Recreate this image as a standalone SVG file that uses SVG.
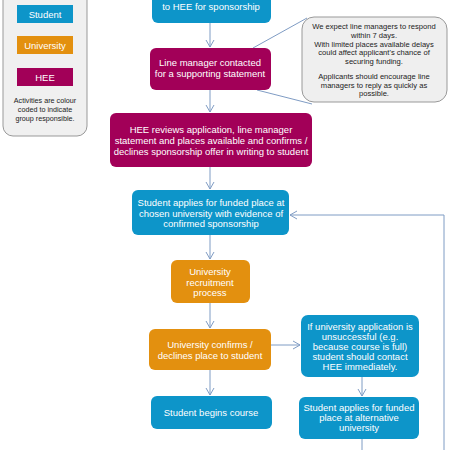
<svg xmlns="http://www.w3.org/2000/svg" width="450" height="450" viewBox="0 0 450 450">
<style>
text{font-family:"Liberation Sans",Arial,sans-serif;text-anchor:middle}
.n text{fill:#fff;font-size:9.5px}
.stu{fill:#0d95c9}
.uni{fill:#e3900f}
.hee{fill:#a20058}
.c{stroke:#7f9cc4;stroke-width:1;fill:none}
.lt{font-size:7.2px;fill:#222}
.nt{font-size:7.6px;fill:#222}
</style>
<defs>
<marker id="ah" markerWidth="10" markerHeight="10" refX="8" refY="5" orient="auto" markerUnits="userSpaceOnUse">
<path d="M1,1 L8,5 L1,9" fill="none" stroke="#7f9cc4" stroke-width="1"/>
</marker>
</defs>
<rect width="450" height="450" fill="#fff"/>

<g id="legend">
<rect x="3" y="-12" width="84" height="148" rx="10" fill="#f0f0f0" stroke="#999"/>
<rect x="17" y="5" width="56" height="18" class="stu"/>
<text x="45" y="17.5" style="fill:#fff;font-size:9.5px">Student</text>
<rect x="17" y="36" width="56" height="18" class="uni"/>
<text x="45" y="48.5" style="fill:#fff;font-size:9.5px">University</text>
<rect x="17" y="68" width="56" height="18" class="hee"/>
<text x="45" y="80.5" style="fill:#fff;font-size:9.5px">HEE</text>
<text class="lt" x="45" y="103">Activities are colour</text>
<text class="lt" x="45" y="112">coded to indicate</text>
<text class="lt" x="45" y="121">group responsible.</text>
</g>

<g id="connectors">
<line class="c" x1="210" y1="23" x2="210" y2="47" marker-end="url(#ah)"/>
<line class="c" x1="210" y1="90" x2="210" y2="112" marker-end="url(#ah)"/>
<line class="c" x1="210" y1="167" x2="210" y2="189" marker-end="url(#ah)"/>
<line class="c" x1="210" y1="235" x2="210" y2="259" marker-end="url(#ah)"/>
<line class="c" x1="210" y1="303" x2="210" y2="328" marker-end="url(#ah)"/>
<line class="c" x1="210" y1="370" x2="210" y2="395" marker-end="url(#ah)"/>
<line class="c" x1="271" y1="345" x2="300" y2="345" marker-end="url(#ah)"/>
<line class="c" x1="362" y1="377" x2="362" y2="396" marker-end="url(#ah)"/>
<polyline class="c" points="362,439 362,450"/>
<polyline class="c" points="444,450 444,215 290,215" marker-end="url(#ah)"/>
<line class="c" x1="253" y1="48" x2="307" y2="18"/>
<line class="c" x1="257" y1="90" x2="312" y2="104"/>
</g>

<g id="n1" class="n">
<rect x="152" y="-20" width="119" height="43" rx="6" class="stu"/>
<text x="211" y="10">to HEE for sponsorship</text>
</g>

<g id="n2" class="n">
<rect x="150" y="48" width="121" height="42" rx="6" class="hee"/>
<text x="210" y="66">Line manager contacted</text>
<text x="210" y="77">for a supporting statement</text>
</g>

<g id="note">
<rect x="302" y="17" width="145" height="85" rx="12" fill="#efefef" stroke="#999"/>
<text class="nt" x="374" y="29">We expect line managers to respond</text>
<text class="nt" x="374" y="38">within 7 days.</text>
<text class="nt" x="374" y="46.5">With limited places available delays</text>
<text class="nt" x="374" y="55">could affect applicant's chance of</text>
<text class="nt" x="374" y="63.5">securing funding.</text>
<text class="nt" x="374" y="79">Applicants should encourage line</text>
<text class="nt" x="374" y="87.5">managers to reply as quickly as</text>
<text class="nt" x="374" y="96">possible.</text>
</g>

<g id="n3" class="n">
<rect x="110" y="113" width="202" height="54" rx="6" class="hee"/>
<text x="211" y="133">HEE reviews application, line manager</text>
<text x="211" y="144">statement and places available and confirms /</text>
<text x="211" y="155">declines sponsorship offer in writing to student</text>
</g>

<g id="n4" class="n">
<rect x="132" y="190" width="157" height="45" rx="6" class="stu"/>
<text x="211" y="206">Student applies for funded place at</text>
<text x="211" y="216.5">chosen university with evidence of</text>
<text x="211" y="227">confirmed sponsorship</text>
</g>

<g id="n5" class="n">
<rect x="171" y="260" width="79" height="43" rx="6" class="uni"/>
<text x="210" y="275">University</text>
<text x="210" y="285.5">recruitment</text>
<text x="210" y="296">process</text>
</g>

<g id="n6" class="n">
<rect x="149" y="329" width="122" height="41" rx="6" class="uni"/>
<text x="210" y="348">University confirms /</text>
<text x="210" y="358.5">declines place to student</text>
</g>

<g id="n7" class="n">
<rect x="301" y="315" width="118" height="62" rx="7" class="stu"/>
<text x="360" y="330">If university application is</text>
<text x="360" y="340">unsuccessful (e.g.</text>
<text x="360" y="350">because course is full)</text>
<text x="360" y="360">student should contact</text>
<text x="360" y="370">HEE immediately.</text>
</g>

<g id="n8" class="n">
<rect x="151" y="396" width="121" height="33" rx="6" class="stu"/>
<text x="211" y="416">Student begins course</text>
</g>

<g id="n9" class="n">
<rect x="299" y="397" width="120" height="42" rx="6" class="stu"/>
<text x="359" y="411">Student applies for funded</text>
<text x="359" y="421">place at alternative</text>
<text x="359" y="431">university</text>
</g>
</svg>
